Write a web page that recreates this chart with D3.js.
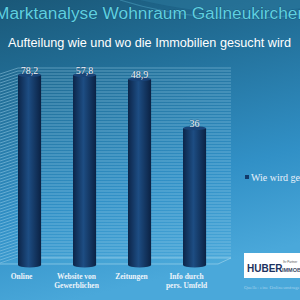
<!DOCTYPE html>
<html><head><meta charset="utf-8">
<script src="https://cdn.jsdelivr.net/npm/d3@7"></script>
<style>html,body{margin:0;padding:0;overflow:hidden;background:#2a7db0}</style>
</head><body>
<script>
const categories = ["Online", "Website von|Gewerblichen", "Zeitungen", "Info durch|pers. Umfeld"];
const values = [78.2, 57.8, 48.9, 36];
const valueLabels = ["78,2", "57,8", "48,9", "36"];
const seriesName = "Wie wird gesucht";
const title = "Marktanalyse Wohnraum Gallneukirchen";
const subtitle = "Aufteilung wie und wo die Immobilien gesucht wird";

const W = 300, H = 300;
const svg = d3.select("body").append("svg").attr("width", W).attr("height", H);
const defs = svg.append("defs");

const bg = defs.append("linearGradient").attr("id", "bg").attr("x1", 0).attr("y1", 0).attr("x2", 0.25).attr("y2", 1);
bg.append("stop").attr("offset", 0).attr("stop-color", "#1a5878");
bg.append("stop").attr("offset", 0.3).attr("stop-color", "#226f98");
bg.append("stop").attr("offset", 0.7).attr("stop-color", "#3190c6");
bg.append("stop").attr("offset", 1).attr("stop-color", "#4aa8da");
svg.append("rect").attr("width", W).attr("height", H).attr("fill", "url(#bg)");

// swoosh
svg.append("path").attr("d", "M140,0 C190,12 250,18 300,8 L300,0 Z").attr("fill", "#2b7a9e").attr("opacity", 0.5);
svg.append("path").attr("d", "M120,0 C170,16 240,24 300,14").attr("fill", "none").attr("stroke", "#4fa3c4").attr("stroke-width", 1.2).attr("opacity", 0.5);

const cyl = defs.append("linearGradient").attr("id", "cyl").attr("x1", 0).attr("x2", 1).attr("y1", 0).attr("y2", 0);
cyl.append("stop").attr("offset", 0).attr("stop-color", "#0c2549");
cyl.append("stop").attr("offset", 0.45).attr("stop-color", "#1d4d83");
cyl.append("stop").attr("offset", 1).attr("stop-color", "#0b2244");

// scales
const x = d3.scaleBand().domain(categories).range([1.5, 222.6]).paddingInner(0.58).paddingOuter(0.3);
const y = d3.scaleLinear().domain([0, 50]).range([265, 75]).clamp(true);

// walls
const wallTop = 68, wallBottom = 258, wallLeft = 18, wallRight = 231;
const grid = svg.append("g");
const gridYs = d3.range(wallTop, wallBottom + 0.1, 3);
grid.selectAll("line.h").data(gridYs).join("line")
  .attr("x1", wallLeft).attr("x2", wallRight).attr("y1", d => d).attr("y2", d => d)
  .attr("stroke", "#a6d8ee").attr("stroke-opacity", 0.45).attr("stroke-width", 1);
grid.selectAll("line.s").data(gridYs).join("line")
  .attr("x1", 0).attr("x2", wallLeft).attr("y1", d => d + 6).attr("y2", d => d)
  .attr("stroke", "#a6d8ee").attr("stroke-opacity", 0.45).attr("stroke-width", 1);
// floor outline
svg.append("path").attr("d", `M0,264 L218,264 L${wallRight},${wallBottom} L${wallLeft},${wallBottom}`)
  .attr("fill", "#5ab3e0").attr("fill-opacity", 0.15).attr("stroke", "#a6d8ee").attr("stroke-opacity", 0.6).attr("stroke-width", 1);

// bars
const bars = svg.append("g").selectAll("g").data(values).join("g");
const bw = x.bandwidth();
bars.append("rect")
  .attr("x", (d, i) => x(categories[i])).attr("width", bw)
  .attr("y", d => y(d)).attr("height", d => y(0) - y(d))
  .attr("fill", "url(#cyl)");
bars.append("ellipse")
  .attr("cx", (d, i) => x(categories[i]) + bw / 2).attr("cy", y(0))
  .attr("rx", bw / 2).attr("ry", 2.5).attr("fill", "url(#cyl)");
bars.append("ellipse")
  .attr("cx", (d, i) => x(categories[i]) + bw / 2).attr("cy", d => y(d))
  .attr("rx", bw / 2).attr("ry", 2).attr("fill", "#1a4478");

// value labels
svg.append("g").selectAll("text").data(values).join("text")
  .attr("x", (d, i) => x(categories[i]) + bw / 2)
  .attr("y", d => y(d) - 1)
  .attr("text-anchor", "middle")
  .attr("font-family", "Liberation Serif, DejaVu Serif, serif")
  .attr("font-size", 10).attr("fill", "#f4f6fa")
  .style("paint-order", "stroke").attr("stroke", "#15406a").attr("stroke-width", 1).attr("stroke-opacity", 0.5)
  .text((d, i) => valueLabels[i]);

// category labels
const cat = svg.append("g").selectAll("text").data(categories).join("text")
  .attr("x", d => x(d) + bw / 2 - 8)
  .attr("y", 279)
  .attr("text-anchor", "middle")
  .attr("font-family", "Liberation Serif, DejaVu Serif, serif")
  .attr("font-weight", "bold")
  .attr("font-size", 7.5).attr("fill", "#eef4fa");
cat.each(function(d) {
  const lines = d.split("|");
  d3.select(this).selectAll("tspan").data(lines).join("tspan")
    .attr("x", x(d) + bw / 2 - 8).attr("dy", (l, i) => i === 0 ? 0 : 9).text(l => l);
});

// legend
svg.append("rect").attr("x", 245).attr("y", 175).attr("width", 4).attr("height", 4).attr("fill", "#123a6a");
svg.append("text").attr("x", 251).attr("y", 181)
  .attr("font-family", "Liberation Serif, DejaVu Serif, serif")
  .attr("font-size", 10).attr("fill", "#e9f1fa").text(seriesName);

// logo
svg.append("rect").attr("x", 244).attr("y", 253).attr("width", 60).attr("height", 25).attr("fill", "#ffffff");
svg.append("text").attr("x", 247).attr("y", 272)
  .attr("font-family", "Liberation Sans, Arial, sans-serif").attr("font-weight", "bold")
  .attr("font-size", 10).attr("fill", "#1c3260").text("HUBER");
svg.append("text").attr("x", 282).attr("y", 272)
  .attr("font-family", "Liberation Sans, Arial, sans-serif").attr("font-weight", "bold")
  .attr("font-size", 5.5).attr("fill", "#3a4a66").text("IMMOBILIEN");
svg.append("text").attr("x", 283).attr("y", 263)
  .attr("font-family", "Liberation Sans, Arial, sans-serif")
  .attr("font-size", 3).attr("fill", "#555").text("Ihr Partner");
svg.append("text").attr("x", 244).attr("y", 289)
  .attr("font-family", "Liberation Serif, DejaVu Serif, serif")
  .attr("font-size", 5).attr("fill", "#b9dcf0").attr("fill-opacity", 0.8).text("Quelle: eine Onlineumfrage");

// titles
svg.append("text").attr("x", -5).attr("y", 19)
  .attr("font-family", "Liberation Sans, Arial, sans-serif")
  .attr("font-size", 16).attr("fill", "#5fcfe0")
  .attr("textLength", 312).attr("lengthAdjust", "spacingAndGlyphs")
  .style("paint-order", "stroke").attr("stroke", "#0f4a63").attr("stroke-width", 0.6)
  .text(title);
svg.append("text").attr("x", 8).attr("y", 47)
  .attr("font-family", "Liberation Sans, Arial, sans-serif")
  .attr("font-size", 13).attr("fill", "#ffffff")
  .attr("textLength", 283).attr("lengthAdjust", "spacingAndGlyphs")
  .text(subtitle);
</script>
</body></html>
